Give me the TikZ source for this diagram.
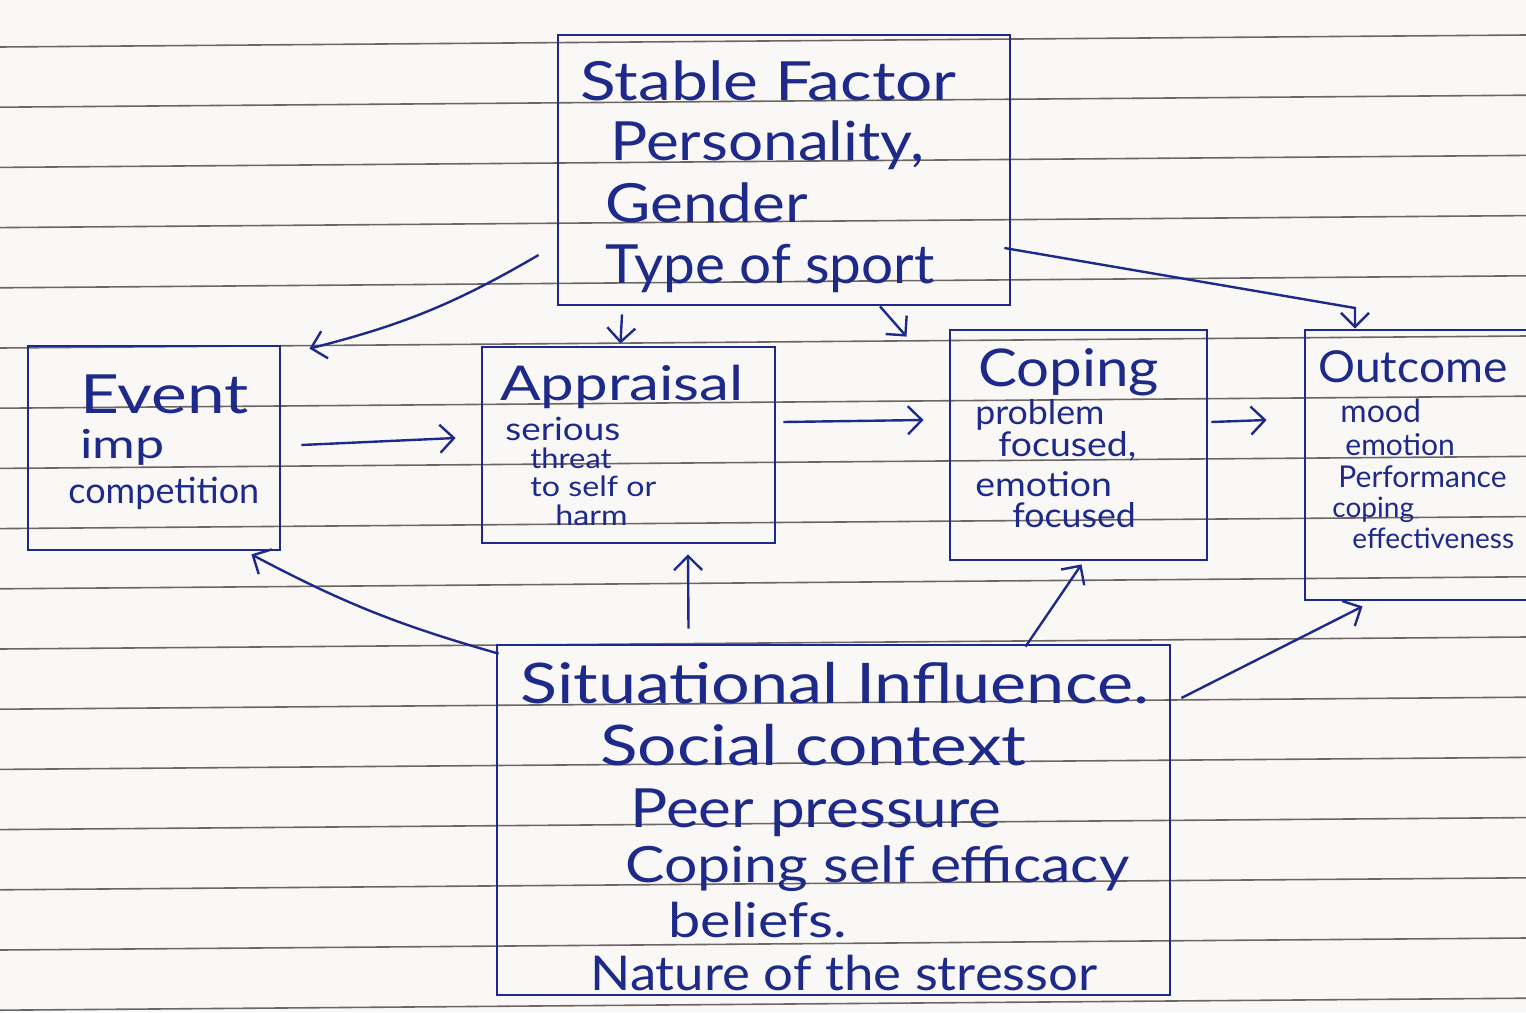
\documentclass[tikz,border=0pt]{standalone}
\usepackage{fontspec}
\usepackage{graphicx}
\setmainfont{Lato}
\usetikzlibrary{arrows.meta,calc}
\definecolor{ink}{RGB}{30,42,138}
\definecolor{paper}{RGB}{250,248,246}
\definecolor{rulecol}{RGB}{110,102,98}
\newcommand{\fs}[1]{\fontsize{#1}{#1}\selectfont}
\newcommand{\hs}[2]{\scalebox{#1}[1]{#2}}
\begin{document}
\begin{tikzpicture}[x=0.5pt,y=-0.5pt,
  box/.style={draw=ink, line width=1.4pt, rectangle, inner sep=0pt},
  arr/.style={draw=ink, line width=1.2pt, -{Straight Barb[length=7pt,width=14pt]}},
  txt/.style={anchor=base west, inner sep=0pt, text=ink}]
\useasboundingbox (0,0) rectangle (1526,1012);
\fill[paper] (0,0) rectangle (1526,1012);
\clip (0,0) rectangle (1526,1012);
\foreach \k in {0,...,16}
  \draw[rulecol, line width=0.8pt] (0,{47+60.2*\k}) -- (1526,{35+60.2*\k});

% boxes
\node[box, minimum width=226pt, minimum height=135pt] (stable) at (784,170) {};
\node[box, minimum width=126pt, minimum height=102pt] (event) at (154,448) {};
\node[box, minimum width=146.5pt, minimum height=98pt] (appraisal) at (628.5,445) {};
\node[box, minimum width=128.5pt, minimum height=115pt] (coping) at (1078.5,445) {};
\node[box, minimum width=147.5pt, minimum height=135pt] (outcome) at (1452.5,465) {};
\node[box, minimum width=336.5pt, minimum height=175pt] (situational) at (833.5,820) {};

% texts: stable factor
\node[txt, font=\fs{27}] (s1) at (580,100) {\hs{1.22}{Stable Factor}};
\node[txt, font=\fs{27}] (s2) at (610,160) {\hs{1.15}{Personality,}};
\node[txt, font=\fs{27}] (s3) at (605,222) {\hs{1.15}{Gender}};
\node[txt, font=\fs{27}] (s4) at (605,283) {\hs{1.05}{Type of sport}};
% event
\node[txt, font=\fs{27}] (e1) at (80,413) {\hs{1.25}{Event}};
\node[txt, font=\fs{20}] (e2) at (80,458) {\hs{1.3}{imp}};
\node[txt, font=\fs{18}] (e3) at (68,503) {competition};
% appraisal
\node[txt, font=\fs{24}] (a1) at (500,400) {\hs{1.25}{Appraisal}};
\node[txt, font=\fs{16}] (a2) at (505,440) {\hs{1.15}{serious}};
\node[txt, font=\fs{14}] (a3) at (530,468) {\hs{1.1}{threat}};
\node[txt, font=\fs{14}] (a4) at (530,496) {\hs{1.15}{to self or}};
\node[txt, font=\fs{14}] (a5) at (555,525) {\hs{1.15}{harm}};
% coping
\node[txt, font=\fs{26}] (c1) at (978,386) {\hs{1.12}{Coping}};
\node[txt, font=\fs{17}] (c2) at (975,424) {\hs{1.05}{problem}};
\node[txt, font=\fs{17}] (c3) at (998,456) {\hs{1.1}{focused,}};
\node[txt, font=\fs{17}] (c4) at (975,496) {\hs{1.1}{emotion}};
\node[txt, font=\fs{17}] (c5) at (1012,527) {\hs{1.05}{focused}};
% outcome
\node[txt, font=\fs{22}] (o1) at (1318,382) {\hs{1.05}{Outcome}};
\node[txt, font=\fs{16}] (o2) at (1340,422) {mood};
\node[txt, font=\fs{15}] (o3) at (1345,455) {emotion};
\node[txt, font=\fs{15}] (o4) at (1338,487) {Performance};
\node[txt, font=\fs{14}] (o5) at (1332,517) {coping};
\node[txt, font=\fs{14}] (o6) at (1352,548) {effectiveness};
% situational
\node[txt, font=\fs{28}] (i1) at (520,703) {\hs{1.22}{Situational Influence.}};
\node[txt, font=\fs{28}] (i2) at (600,765) {\hs{1.24}{Social context}};
\node[txt, font=\fs{27}] (i3) at (630,827) {\hs{1.15}{Peer pressure}};
\node[txt, font=\fs{25}] (i4) at (625,882) {\hs{1.18}{Coping self efficacy}};
\node[txt, font=\fs{24}] (i5) at (668,937) {\hs{1.2}{beliefs.}};
\node[txt, font=\fs{24}] (i6) at (590,990) {\hs{1.1}{Nature of the stressor}};

% connectors
\draw[arr] ($(event.east)+(20,-3)$) -- ($(appraisal.west)+(-25,-7)$);
\draw[arr] ($(appraisal.east)+(7,-23)$) -- ($(coping.west)+(-25,-25)$);
\draw[arr] ($(coping.east)+(3,-23)$) -- ($(outcome.west)+(-37,-45)$);
\draw[arr] ($(stable.west)+(-18,85)$) to[bend left=8] ($(event.north east)+(28,4)$);
\draw[arr] ($(stable.south)+(-162,8)$) -- ($(appraisal.north)+(-8,-2)$);
\draw[arr] ($(stable.south)+(96,0)$) -- ($(coping.north)+(-172,8)$);
\coordinate (hook) at (1355,308);
\draw[arr] ($(stable.east)+(-7,78)$) -- (hook) -- ($(outcome.north)+(-97.5,0)$);
\draw[arr] ($(situational.north west)+(3,10)$) to[bend left=6] ($(event.south east)+(-30,3)$);
\draw[arr] ($(situational.north)+(-145,-15)$) -- ($(appraisal.south)+(59.5,10)$);
\draw[arr] ($(situational.north)+(192,3)$) -- ($(coping.south)+(3,3)$);
\draw[arr] ($(situational.east)+(10,-122)$) -- ($(outcome.south)+(-90,5)$);
\end{tikzpicture}
\end{document}
